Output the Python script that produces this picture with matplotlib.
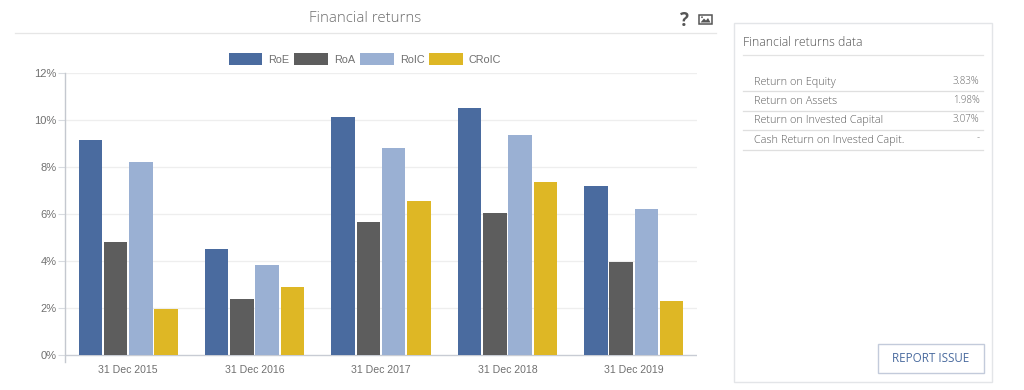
import matplotlib
matplotlib.use("Agg")
import matplotlib.pyplot as plt
from matplotlib.patches import Rectangle, Polygon, Circle
import numpy as np

plt.rcParams['font.family'] = ['Liberation Sans', 'DejaVu Sans']

dates = ['31 Dec 2015', '31 Dec 2016', '31 Dec 2017', '31 Dec 2018', '31 Dec 2019']
roe = [9.15, 4.50, 10.13, 10.50, 7.20]
roa = [4.80, 2.38, 5.66, 6.04, 3.96]
roic = [8.20, 3.82, 8.80, 9.35, 6.20]
croic = [1.95, 2.88, 6.55, 7.36, 2.30]
series_names = ['RoE', 'RoA', 'RoIC', 'CRoIC']
series_colors = ['#4a6b9f', '#5d5d5d', '#9ab0d3', '#deb725']
yticks = [0, 2, 4, 6, 8, 10, 12]
table_labels = ['Return on Equity', 'Return on Assets', 'Return on Invested Capital', 'Cash Return on Invested Capit.']
table_values = ['3.83%', '1.98%', '3.07%', '-']

W, H = 1024, 390
fig = plt.figure(figsize=(W / 100, H / 100), dpi=100, facecolor='white')

y_tail = 7 / 23.5
ax = fig.add_axes([65 / W, 1 - 362 / H, 632 / W, 289 / H])
ax.set_xlim(-0.5, 4.5)
ax.set_ylim(-y_tail, 12)
x = np.arange(len(dates))
for i, (vals, name, col) in enumerate(zip([roe, roa, roic, croic], series_names, series_colors)):
    ax.bar(x + (i - 1.5) * 0.2, vals, width=0.186, color=col, label=name, zorder=3)

for s in ['top', 'right', 'bottom']:
    ax.spines[s].set_visible(False)
ax.spines['left'].set_color('#c4c8cf')
ax.spines['left'].set_linewidth(1.0)
ax.set_yticks(yticks)
ax.set_yticklabels([f'{v}%' for v in yticks], fontsize=8.0, color='#707070')
ax.tick_params(axis='y', length=5, color='#d8dbe0', width=0.8, pad=1)
ax.set_xticks(x)
ax.set_xticklabels(dates, fontsize=7.6, color='#707070')
ax.tick_params(axis='x', length=0, pad=2)
for v in yticks[1:]:
    ax.axhline(v, color='#eeeeee', lw=0.9, zorder=1)
ax.axhline(0, color='#c8ccd4', lw=1.0, zorder=2)

leg = ax.legend(loc='center', bbox_to_anchor=(365 / W, 1 - 59 / H), bbox_transform=fig.transFigure,
                ncol=4, frameon=False, fontsize=7.8, handlelength=3.1, handleheight=1.3,
                handletextpad=0.55, columnspacing=0.47, labelcolor='#707070', borderpad=0)

ov = fig.add_axes([0, 0, 1, 1], zorder=5)
ov.set_xlim(0, W)
ov.set_ylim(H, 0)
ov.axis('off')
ov.patch.set_alpha(0)

ov.text(365, 18.5, 'Financial returns', ha='center', va='center', fontsize=10.8,
        color='#6e6e6e', family=['Open Sans', 'DejaVu Sans'], fontweight='light')
ov.plot([15, 716], [33, 33], color='#e6e6e6', lw=0.9)
ov.text(684, 21, '?', ha='center', va='center', fontsize=13.5, fontweight='bold', color='#555555',
        family=['Open Sans', 'DejaVu Sans'])
ov.add_patch(Rectangle((698.5, 14.5), 13, 9.5, fill=False, ec='#555555', lw=1.1))
ov.add_patch(Polygon([(700.5, 22.5), (704, 18.5), (706, 20.5), (708, 18), (710.5, 22.5)], color='#555555', lw=0))
ov.add_patch(Circle((702, 17.2), 0.9, color='#555555', lw=0))

ov.add_patch(Rectangle((733.5, 22.5), 258, 359, fill=False, ec='#e3e5e8', lw=1.0))
ov.text(743, 43, 'Financial returns data', ha='left', va='center', fontsize=8.8,
        color='#505050', family=['Open Sans', 'DejaVu Sans'], fontweight='light')
ov.plot([743, 983], [54.5, 54.5], color='#e3e3e3', lw=0.9)
row_y = [82.5, 102, 121, 140.5]
line_y = [91, 110.5, 130, 149.5]
for lab, val, ry, ly in zip(table_labels, table_values, row_y, line_y):
    ov.text(753.5, ry, lab, ha='left', va='center', fontsize=7.8, color='#5c5c5c',
            family=['Open Sans', 'DejaVu Sans'], fontweight='light')
    ov.text(979.5, ry - 1.5, val, ha='right', va='center', fontsize=7.0, color='#666666',
            family=['Open Sans', 'DejaVu Sans'], fontweight='light')
    ov.plot([743, 983], [ly, ly], color='#dfdfdf', lw=0.9)

ov.add_patch(Rectangle((877.5, 343.5), 106, 29, fill=False, ec='#c3cbdb', lw=1.0))
ov.text(930.5, 358.5, 'REPORT ISSUE', ha='center', va='center', fontsize=8.4, color='#4a6b9f',
        family=['Open Sans', 'DejaVu Sans'])

fig.savefig('out.png', dpi=100, facecolor='white')
